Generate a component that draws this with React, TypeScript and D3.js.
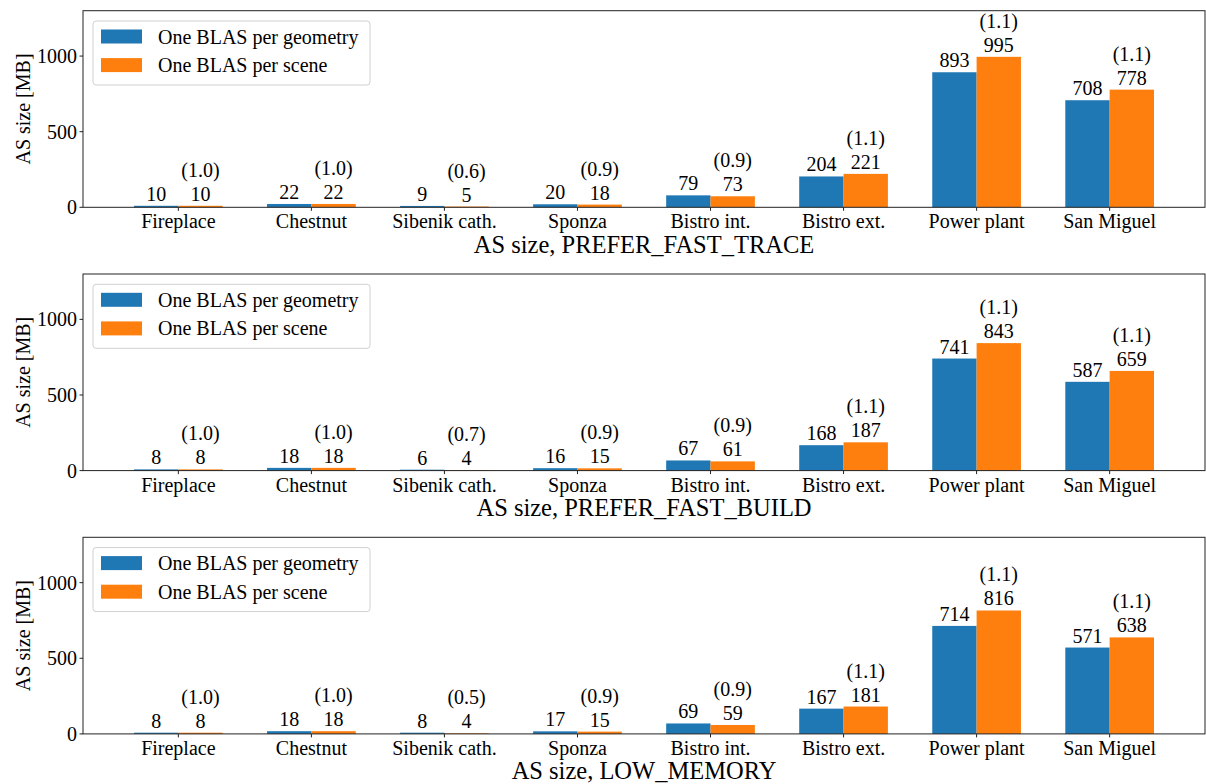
import React from "react";
import * as d3 from "d3";

const categories = ["Fireplace", "Chestnut", "Sibenik cath.", "Sponza", "Bistro int.", "Bistro ext.", "Power plant", "San Miguel"];
const seriesNames = ["One BLAS per geometry", "One BLAS per scene"];
const colors = ["#1f77b4", "#ff7f0e"];
const yTicks = [0, 500, 1000];

const titles = ["AS size, PREFER_FAST_TRACE", "AS size, PREFER_FAST_BUILD", "AS size, LOW_MEMORY"];

const fastTraceGeom = [10, 22, 9, 20, 79, 204, 893, 708];
const fastTraceScene = [10, 22, 5, 18, 73, 221, 995, 778];
const fastTraceRatio = ["1.0", "1.0", "0.6", "0.9", "0.9", "1.1", "1.1", "1.1"];

const fastBuildGeom = [8, 18, 6, 16, 67, 168, 741, 587];
const fastBuildScene = [8, 18, 4, 15, 61, 187, 843, 659];
const fastBuildRatio = ["1.0", "1.0", "0.7", "0.9", "0.9", "1.1", "1.1", "1.1"];

const lowMemGeom = [8, 18, 8, 17, 69, 167, 714, 571];
const lowMemScene = [8, 18, 4, 15, 59, 181, 816, 638];
const lowMemRatio = ["1.0", "1.0", "0.5", "0.9", "0.9", "1.1", "1.1", "1.1"];

const panels = [
  { title: titles[0], geom: fastTraceGeom, scene: fastTraceScene, ratio: fastTraceRatio },
  { title: titles[1], geom: fastBuildGeom, scene: fastBuildScene, ratio: fastBuildRatio },
  { title: titles[2], geom: lowMemGeom, scene: lowMemScene, ratio: lowMemRatio },
];

const FONT = "'Liberation Serif', 'Times New Roman', 'DejaVu Serif', serif";
const W = 1206;
const H = 784;
const left = 83;
const right = 1205;
const panelTops = [10.7, 274, 537.3];
const panelH = 196.6;
const barW = 1 / 3;

function Panel({ top, panel }: { top: number; panel: typeof panels[0] }) {
  const bottom = top + panelH;
  const x = d3.scaleLinear().domain([-0.7167, 7.7167]).range([left, right]);
  const y = d3.scaleLinear().domain([0, 1300]).range([bottom, top]);
  const series = [panel.geom, panel.scene];
  return (
    <g>
      {series.map((vals, s) =>
        vals.map((v, i) => {
          const x0 = x(i + (s === 0 ? -barW : 0));
          const x1 = x(i + (s === 0 ? 0 : barW));
          return <rect key={`${s}-${i}`} x={x0} y={y(v)} width={x1 - x0} height={bottom - y(v)} fill={colors[s]} />;
        })
      )}
      {series.map((vals, s) =>
        vals.map((v, i) => {
          const cx = x(i + (s === 0 ? -barW / 2 : barW / 2));
          const by = y(v) - 5;
          return (
            <g key={`l${s}-${i}`} fontFamily={FONT} fontSize={20} textAnchor="middle" fill="#000">
              <text x={cx} y={by}>{v}</text>
              {s === 1 && <text x={cx} y={by - 24}>({panel.ratio[i]})</text>}
            </g>
          );
        })
      )}
      {/* spines */}
      <rect x={left} y={top} width={right - left} height={panelH} fill="none" stroke="#222" strokeWidth={1} />
      {/* y ticks */}
      {yTicks.map((t) => (
        <g key={t}>
          <line x1={left - 3.5} x2={left} y1={y(t)} y2={y(t)} stroke="#222" />
          <text x={left - 6} y={y(t)} dy="0.35em" textAnchor="end" fontFamily={FONT} fontSize={20}>{t}</text>
        </g>
      ))}
      {/* x ticks */}
      {categories.map((c, i) => (
        <g key={c}>
          <line x1={x(i)} x2={x(i)} y1={bottom} y2={bottom + 3.5} stroke="#222" />
          <text x={x(i)} y={bottom + 21} textAnchor="middle" fontFamily={FONT} fontSize={20}>{c}</text>
        </g>
      ))}
      <text x={(left + right) / 2} y={bottom + 45.5} textAnchor="middle" fontFamily={FONT} fontSize={24.5}>{panel.title}</text>
      <text transform={`translate(23, ${(top + bottom) / 2}) rotate(-90)`} textAnchor="middle" dy="0.35em" fontFamily={FONT} fontSize={20}>AS size [MB]</text>
      {/* legend */}
      <g>
        <rect x={93} y={top + 10.3} width={277} height={64} rx={3} fill="#fff" fillOpacity={0.8} stroke="#d0d0d0" />
        {seriesNames.map((n, s) => (
          <g key={n}>
            <rect x={101} y={top + 25.8 + s * 28.6 - 7} width={41} height={14} fill={colors[s]} />
            <text x={158} y={top + 25.8 + s * 28.6} dy="0.35em" fontFamily={FONT} fontSize={20}>{n}</text>
          </g>
        ))}
      </g>
    </g>
  );
}

export default function App() {
  return (
    <svg width={W} height={H} style={{ position: "absolute", left: 0, top: 0, background: "#fff" }}>
      <rect width={W} height={H} fill="#fff" />
      {panels.map((p, k) => (
        <Panel key={k} top={panelTops[k]} panel={p} />
      ))}
    </svg>
  );
}
